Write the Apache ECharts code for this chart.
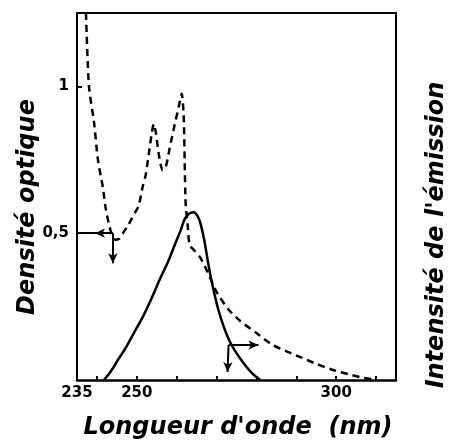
<!DOCTYPE html>
<html>
<head>
<meta charset="utf-8">
<script src="https://cdn.jsdelivr.net/npm/echarts@6/dist/echarts.min.js"></script>
<style>
html,body{margin:0;padding:0;background:#fff;}
#chart{width:455px;height:445px;}
</style>
</head>
<body>
<div id="chart"></div>
<script>
// Absorption spectrum (dashed) : wavelength (nm), optical density
var absWavelength = [237.25, 238, 239.25, 240.25, 241.5, 242.25, 243.5, 244.5, 245.5, 246.5, 247.75, 248.75, 249.75, 250.5, 251.5, 252.25, 253, 253.75, 254.25, 254.75, 255.5, 256.5, 257.25, 258.25, 259.5, 260.5, 261.25, 261.75, 262, 262.25, 262.75, 263.25, 264.5, 266, 268, 270, 273, 276, 280, 284, 288, 291, 295, 299, 303, 306, 310];
var absDensity    = [1.25, 1.0, 0.88, 0.75, 0.655, 0.58, 0.505, 0.478, 0.48, 0.5, 0.525, 0.55, 0.575, 0.595, 0.66, 0.7, 0.77, 0.84, 0.872, 0.845, 0.77, 0.715, 0.725, 0.79, 0.87, 0.93, 0.975, 0.9, 0.75, 0.6, 0.53, 0.46, 0.44, 0.415, 0.36, 0.3, 0.24, 0.2, 0.16, 0.12, 0.095, 0.078, 0.055, 0.035, 0.02, 0.01, 0];
// Emission spectrum (solid) : wavelength (nm), intensity (arb. units)
var emWavelength = [241.75, 243.5, 245.25, 247.25, 249.25, 251.5, 253.5, 256, 257.75, 259.5, 261, 262, 263, 264.25, 265.25, 266, 267, 268, 269.25, 271, 273.5, 276.75, 279, 281];
var emIntensity  = [0, 0.03, 0.068, 0.11, 0.16, 0.215, 0.272, 0.35, 0.4, 0.46, 0.51, 0.548, 0.565, 0.571, 0.558, 0.532, 0.47, 0.39, 0.306, 0.214, 0.126, 0.058, 0.022, 0];
// Axis ticks / labels
var xLabelValues = [235, 250, 300];
var xTickValues  = [240, 250, 260, 270, 280, 290, 300, 310];
var yLabelValues = [0.5, 1];
// Arrow annotations (data coordinates)
var absArrowOrigin = [244, 0.5];
var absArrowMid = 239.5;
var absArrowEndY = 0.398;
var emArrowOrigin = [273, 0.119];
var emArrowEndX = 280.5;
var emArrowEndY = 0.027;

function zip(a, b){ return a.map(function(v,i){ return [v, b[i]]; }); }

var chart = echarts.init(document.getElementById('chart'), null, {renderer:'canvas'});
var black = '#000';
var lineSeg = function(p1, p2, endSym){
  return [{coord:p1, symbol:'none'}, {coord:p2, symbol: endSym || 'none'}];
};
var titleFont = 'italic bold 24px "DejaVu Sans"';
var option = {
  animation:false,
  backgroundColor:'#fff',
  grid:{left:77, top:13, right:59, bottom:65},
  xAxis:[{
    type:'value', min:235, max:315, position:'bottom',
    axisLine:{show:true, lineStyle:{color:black, width:2.5}},
    axisTick:{show:true, inside:true, length:4, customValues:xTickValues, lineStyle:{color:black, width:2}},
    axisLabel:{show:true, customValues:xLabelValues, margin:6, color:black, fontFamily:'DejaVu Sans', fontWeight:'bold', fontSize:15},
    splitLine:{show:false}
  },{
    type:'value', min:235, max:315, position:'top',
    axisLine:{show:true, onZero:false, lineStyle:{color:black, width:2}},
    axisTick:{show:false}, axisLabel:{show:false}, splitLine:{show:false}
  }],
  yAxis:[{
    type:'value', min:0, max:1.25, position:'left',
    axisLine:{show:true, lineStyle:{color:black, width:2}},
    axisTick:{show:true, inside:true, length:5, customValues:yLabelValues, lineStyle:{color:black, width:2}},
    axisLabel:{show:true, customValues:yLabelValues, margin:8, color:black, fontFamily:'DejaVu Sans', fontWeight:'bold', fontSize:15,
      formatter:function(v){ return String(v).replace('.', ','); }},
    splitLine:{show:false}
  },{
    type:'value', min:0, max:1.25, position:'right',
    axisLine:{show:true, onZero:false, lineStyle:{color:black, width:2}},
    axisTick:{show:false}, axisLabel:{show:false}, splitLine:{show:false}
  }],
  graphic:[
    {type:'text', x:28, y:207, rotation:Math.PI/2,
      style:{text:'Densité optique', fill:black, font:titleFont, align:'center', verticalAlign:'middle', textAlign:'center', textVerticalAlign:'middle'}},
    {type:'text', x:437, y:235, rotation:Math.PI/2,
      style:{text:"Intensité de l'émission", fill:black, font:titleFont, align:'center', verticalAlign:'middle', textAlign:'center', textVerticalAlign:'middle'}},
    {type:'text', x:238, y:428,
      style:{text:"Longueur d'onde  (nm)", fill:black, font:titleFont, align:'center', verticalAlign:'middle', textAlign:'center', textVerticalAlign:'middle'}}
  ],
  series:[{
    name:'Absorption', type:'line', xAxisIndex:0, yAxisIndex:0,
    data:zip(absWavelength, absDensity), smooth:0.25, showSymbol:false,
    lineStyle:{color:black, width:2.5, type:[7,5]},
    markLine:{
      silent:true, animation:false, symbolSize:[7,10],
      label:{show:false},
      lineStyle:{color:black, width:2, type:'solid'},
      emphasis:{disabled:true},
      data:[
        lineSeg(absArrowOrigin, [absArrowMid, absArrowOrigin[1]], 'arrow'),
        lineSeg([absArrowMid, absArrowOrigin[1]], [235, absArrowOrigin[1]]),
        lineSeg(absArrowOrigin, [absArrowOrigin[0], absArrowEndY], 'arrow')
      ]
    }
  },{
    name:'Emission', type:'line', xAxisIndex:0, yAxisIndex:1,
    data:zip(emWavelength, emIntensity), smooth:0.4, showSymbol:false,
    lineStyle:{color:black, width:2.5, type:'solid'},
    markLine:{
      silent:true, animation:false, symbolSize:[7,10],
      label:{show:false},
      lineStyle:{color:black, width:2, type:'solid'},
      emphasis:{disabled:true},
      data:[
        lineSeg(emArrowOrigin, [emArrowEndX, emArrowOrigin[1]], 'arrow'),
        lineSeg(emArrowOrigin, [emArrowOrigin[0] - 0.25, emArrowEndY], 'arrow')
      ]
    }
  }]
};
chart.setOption(option);
</script>
</body>
</html>
